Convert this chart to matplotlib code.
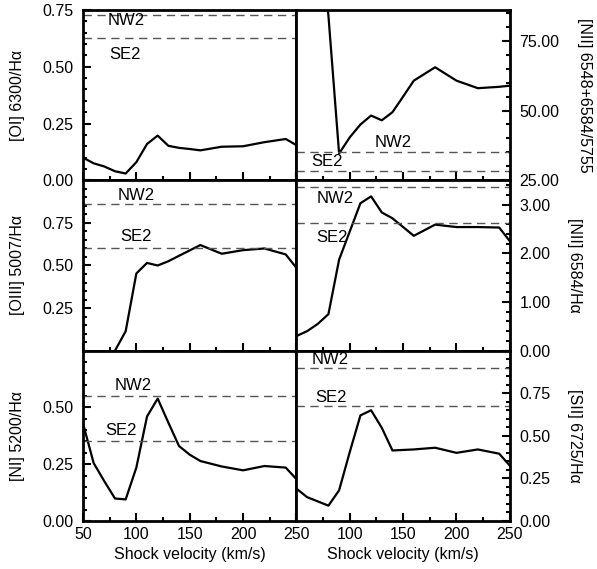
import matplotlib.pyplot as plt
from matplotlib.ticker import MultipleLocator, FormatStrFormatter

plt.rcParams['font.family'] = ['Liberation Sans', 'DejaVu Sans']
plt.rcParams['font.size'] = 11.5

# shock velocities (km/s) and model line ratios
v_oi = [50, 60, 70, 80, 90, 100, 110, 120, 130, 140, 150, 160, 180, 200, 220, 240, 250]
oi = [0.100, 0.075, 0.061, 0.040, 0.030, 0.080, 0.160, 0.197, 0.152, 0.143, 0.138, 0.132, 0.148, 0.150, 0.168, 0.182, 0.155]

v_nii_t = [50, 60, 70, 80, 90, 100, 110, 120, 130, 140, 150, 160, 180, 200, 220, 240, 250]
nii_t = [200, 160, 120, 84, 34.6, 40.4, 45.0, 48.2, 46.5, 49.4, 55.0, 60.7, 65.5, 60.7, 58.0, 58.5, 58.9]

v_oiii = [80, 90, 100, 110, 120, 130, 140, 160, 180, 200, 220, 240, 250]
oiii = [0.0, 0.114, 0.453, 0.515, 0.500, 0.525, 0.557, 0.620, 0.569, 0.590, 0.600, 0.565, 0.486]

v_nii = [50, 60, 70, 80, 90, 100, 110, 120, 130, 140, 160, 180, 200, 220, 240, 250]
nii = [0.30, 0.40, 0.55, 0.75, 1.87, 2.45, 3.03, 3.17, 2.84, 2.72, 2.36, 2.59, 2.54, 2.54, 2.53, 2.25]

v_ni = [50, 60, 70, 80, 90, 100, 110, 120, 130, 140, 150, 160, 180, 200, 220, 240, 250]
ni = [0.430, 0.255, 0.175, 0.099, 0.095, 0.235, 0.460, 0.539, 0.433, 0.330, 0.292, 0.264, 0.240, 0.223, 0.242, 0.235, 0.184]

v_sii = [50, 60, 70, 80, 90, 100, 110, 120, 130, 140, 160, 180, 200, 220, 240, 250]
sii = [0.19, 0.14, 0.115, 0.09, 0.18, 0.405, 0.62, 0.65, 0.547, 0.414, 0.42, 0.43, 0.40, 0.42, 0.395, 0.325]

# observed ratios (NW2, SE2)
obs_oi = [0.73, 0.625]
obs_nii_t = [35.1, 28.3]
obs_oiii = [0.863, 0.604]
obs_nii = [3.37, 2.62]
obs_ni = [0.55, 0.352]
obs_sii = [0.90, 0.677]

panels = [
    # v, y, obs, ylabel, ylim, yticks, minor, side, label positions
    (v_oi, oi, obs_oi, "[OI] 6300/H\u03b1", (0, 0.75), [0, 0.25, 0.5, 0.75], 0.05, "left",
     [(73, 0.705), (75, 0.553)]),
    (v_nii_t, nii_t, obs_nii_t, "[NII] 6548+6584/5755", (25, 86), [25, 50, 75], 5, "right",
     [(123, 38.6), (64, 31.8)]),
    (v_oiii, oiii, obs_oiii, "[OIII] 5007/H\u03b1", (0, 1.0), [0.25, 0.5, 0.75], 0.05, "left",
     [(82, 0.912), (84.6, 0.672)]),
    (v_nii, nii, obs_nii, "[NII] 6584/H\u03b1", (0, 3.5), [0, 1, 2, 3], 0.2, "right",
     [(68.7, 3.12), (68.7, 2.33)]),
    (v_ni, ni, obs_ni, "[NI] 5200/H\u03b1", (0, 0.75), [0, 0.25, 0.5], 0.05, "left",
     [(80, 0.595), (70.6, 0.40)]),
    (v_sii, sii, obs_sii, "[SII] 6725/H\u03b1", (0, 1.0), [0, 0.25, 0.5, 0.75], 0.05, "right",
     [(64, 0.947), (67.8, 0.725)]),
]

fig, axes = plt.subplots(3, 2, figsize=(5.97, 5.69), dpi=100)
fig.subplots_adjust(left=0.139, right=0.854, bottom=0.0844, top=0.9824, wspace=0, hspace=0)

for i, (ax, p) in enumerate(zip(axes.flat, panels)):
    v, y, obs, lab, ylim, yt, mn, side, pos = p
    ax.plot(v, y, color="black", lw=1.6, clip_on=True)
    for val, name, (tx, ty) in zip(obs, ["NW2", "SE2"], pos):
        ax.axhline(val, color="#555555", lw=1.0, dashes=(6, 4))
        ax.text(tx, ty, name, ha="left", va="center", fontsize=12)
    ax.set_xlim(50, 250)
    ax.set_ylim(*ylim)
    ax.set_yticks(yt)
    ax.yaxis.set_minor_locator(MultipleLocator(mn))
    ax.yaxis.set_major_formatter(FormatStrFormatter("%.2f"))
    ax.xaxis.set_major_locator(MultipleLocator(50))
    ax.xaxis.set_minor_locator(MultipleLocator(25))
    for s in ax.spines.values():
        s.set_linewidth(2)
    ax.tick_params(which="both", direction="in", width=1.5, top=False)
    ax.tick_params(which="major", length=6, pad=7)
    ax.tick_params(which="minor", length=3)
    if side == "left":
        ax.tick_params(axis="y", which="both", left=True, right=False)
        ax.set_ylabel(lab)
        ax.yaxis.set_label_coords(-0.272, 0.5)
    else:
        ax.yaxis.tick_right()
        ax.yaxis.set_label_position("right")
        ax.set_ylabel(lab, rotation=270, va="bottom")
        ax.yaxis.set_label_coords(1.316 if i == 1 else 1.267, 0.5)
    if i < 4:
        ax.tick_params(axis="x", labelbottom=False)
    else:
        ax.set_xlabel("Shock velocity (km/s)")
        if i == 5:
            ax.set_xticks([50, 100, 150, 200, 250])
            ax.set_xticklabels(["", "100", "150", "200", "250"])
        ax.tick_params(axis="x", which="major", pad=4)

fig.savefig("out.png", dpi=100)
